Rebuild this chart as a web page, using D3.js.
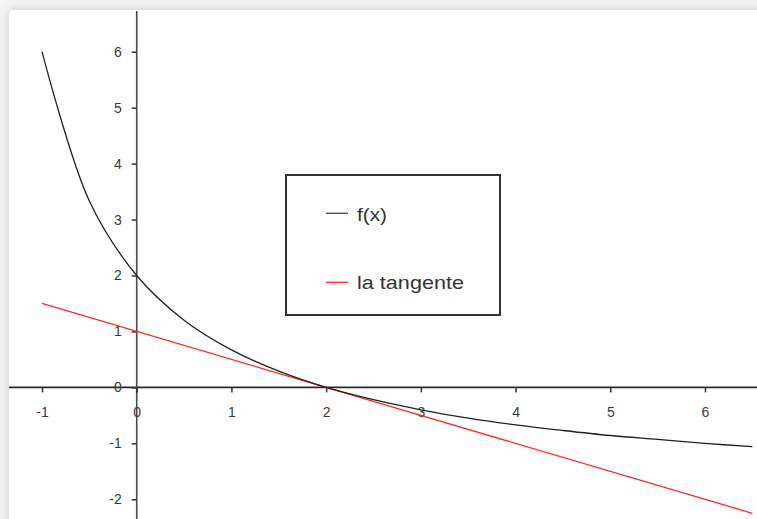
<!DOCTYPE html>
<html>
<head>
<meta charset="utf-8">
<script src="https://cdn.jsdelivr.net/npm/d3@7"></script>
<style>
  body { margin: 0; background: #fff; }
  text { font-family: Arial, "Liberation Sans", sans-serif; }
</style>
</head>
<body>
<div id="chart"></div>
<script>
// values
var xValues = [-1, -0.5, 0, 0.5, 1, 1.5, 2, 2.5, 3, 3.5, 4, 4.5, 5, 5.5, 6, 6.5];
var fValues = [6, 3.33, 2, 1.2, 0.67, 0.29, 0, -0.22, -0.4, -0.55, -0.67, -0.77, -0.86, -0.93, -1.0, -1.06];
var tangentX = [-1, 6.5];
var tangentY = [1.5, -2.25];
var xTicks = [-1, 0, 1, 2, 3, 4, 5, 6];
var yTicks = [-2, -1, 0, 1, 2, 3, 4, 5, 6];
var legendLabels = ["f(x)", "la tangente"];
var legendColors = ["#222", "#ff2a1a"];

var svgWidth = 757;
var svgHeight = 519;

var svg = d3.select("#chart")
  .append("svg")
  .attr("width", svgWidth)
  .attr("height", svgHeight);

// grey frame with a soft shadow round the white panel
var defs = svg.append("defs");
var shadow = defs.append("filter").attr("id", "shadow")
  .attr("x", "-5%").attr("y", "-5%").attr("width", "110%").attr("height", "110%");
shadow.append("feDropShadow")
  .attr("dx", 0).attr("dy", 0)
  .attr("stdDeviation", 4)
  .attr("flood-color", "#000")
  .attr("flood-opacity", 0.18);

svg.append("rect")
  .attr("width", svgWidth).attr("height", svgHeight)
  .attr("fill", "#f4f4f4");
svg.append("rect")
  .attr("x", 9).attr("y", 10)
  .attr("width", svgWidth + 20).attr("height", svgHeight + 20)
  .attr("rx", 3)
  .attr("fill", "#fff")
  .attr("filter", "url(#shadow)");

var x = d3.scaleLinear().domain([-1, 6]).range([42, 705]);
var y = d3.scaleLinear().domain([-2, 6]).range([499.3, 51.7]);

// axis lines through the origin
svg.append("line")
  .attr("x1", 9).attr("x2", svgWidth)
  .attr("y1", y(0)).attr("y2", y(0))
  .attr("stroke", "#2a2a2a").attr("stroke-width", 1.6);
svg.append("line")
  .attr("x1", x(0)).attr("x2", x(0))
  .attr("y1", 11).attr("y2", svgHeight)
  .attr("stroke", "#4a4a4a").attr("stroke-width", 1.6);

var fmt = function(d) { return String(d); };
var bottomAxis = d3.axisBottom(x).tickValues(xTicks).tickFormat(fmt)
  .tickSize(5).tickPadding(15).tickSizeOuter(0);
var leftAxis = d3.axisLeft(y).tickValues(yTicks).tickFormat(fmt)
  .tickSize(5).tickPadding(10).tickSizeOuter(0);

var gx = svg.append("g")
  .attr("transform", `translate(0, ${y(0)})`)
  .call(bottomAxis);
var gy = svg.append("g")
  .attr("transform", `translate(${x(0)}, 0)`)
  .call(leftAxis);

[gx, gy].forEach(function(g) {
  g.select(".domain").remove();
  g.selectAll(".tick line").attr("stroke", "#333").attr("stroke-width", 1.5);
  g.selectAll(".tick text")
    .attr("font-size", 14)
    .attr("fill", "#3a3a3a")
    .attr("font-family", "Arial, 'Liberation Sans', sans-serif");
});
gx.selectAll(".tick text").attr("dy", "0.72em");

// tangent line
var lineT = d3.line()
  .x(function(d) { return x(d[0]); })
  .y(function(d) { return y(d[1]); });
svg.append("path")
  .datum(d3.zip(tangentX, tangentY))
  .attr("d", lineT)
  .attr("fill", "none")
  .attr("stroke", legendColors[1])
  .attr("stroke-width", 1.3);

// f(x) curve
var lineF = d3.line()
  .x(function(d) { return x(d[0]); })
  .y(function(d) { return y(d[1]); })
  .curve(d3.curveCatmullRom);
svg.append("path")
  .datum(d3.zip(xValues, fValues))
  .attr("d", lineF)
  .attr("fill", "none")
  .attr("stroke", legendColors[0])
  .attr("stroke-width", 1.3);

// legend
var legend = svg.append("g").attr("transform", "translate(286, 175)");
legend.append("rect")
  .attr("width", 214).attr("height", 140)
  .attr("fill", "#fff")
  .attr("stroke", "#333").attr("stroke-width", 2);

var legendWidths = [30, 107];
legendLabels.forEach(function(label, i) {
  var ly = 38.3 + i * 69;
  legend.append("line")
    .attr("x1", 40).attr("x2", 62)
    .attr("y1", ly).attr("y2", ly)
    .attr("stroke", i === 0 ? "#444" : legendColors[i])
    .attr("stroke-width", 1.3);
  legend.append("text")
    .attr("x", 71).attr("y", ly + 7.5 - i)
    .attr("font-size", 19)
    .attr("fill", "#333")
    .attr("textLength", legendWidths[i])
    .attr("lengthAdjust", "spacingAndGlyphs")
    .text(label);
});
</script>
</body>
</html>
